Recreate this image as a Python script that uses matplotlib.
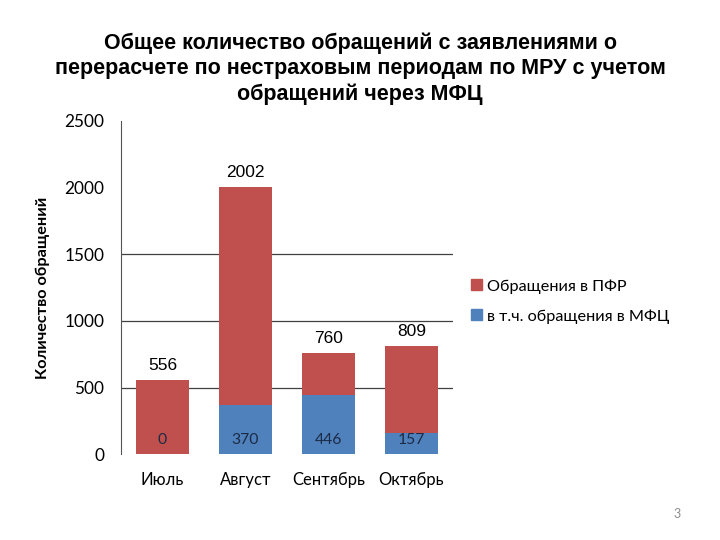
import matplotlib
matplotlib.use("Agg")
import matplotlib.pyplot as plt
from matplotlib.patches import Patch

months = ["Июль", "Август", "Сентябрь", "Октябрь"]
totals = [556, 2002, 760, 809]
mfc = [0, 370, 446, 157]
pfr = [t - m for t, m in zip(totals, mfc)]

red = "#C0504D"
blue = "#4F81BD"
body_font = ["Lato", "DejaVu Sans"]

fig = plt.figure(figsize=(7.2, 5.4), dpi=100)
ax = fig.add_axes([0.168, 0.159, 0.461, 0.617])

x = range(len(months))
ax.bar(x, mfc, width=0.64, color=blue, zorder=2)
ax.bar(x, pfr, width=0.64, bottom=mfc, color=red, zorder=2)

for i in x:
    ax.annotate(str(totals[i]), (i, totals[i]), xytext=(0, 5), textcoords="offset points",
                ha="center", va="bottom", fontsize=12.5, family="Liberation Sans")
    ax.annotate(str(mfc[i]), (i, 0), xytext=(0, 10), textcoords="offset points",
                ha="center", va="center", fontsize=11.3, family=body_font, color="#1c2b45")

ax.set_xlim(-0.5, 3.5)
ax.set_ylim(0, 2500)
ax.set_yticks([0, 500, 1000, 1500, 2000, 2500])
for y in [500, 1000, 1500]:
    ax.axhline(y, color="#404040", lw=0.9, zorder=1)
ax.set_xticks(list(x))
ax.set_xticklabels(months, family=body_font, fontsize=12)
ax.tick_params(axis="x", length=0, pad=13)
ax.tick_params(axis="y", length=0, pad=12, labelsize=12.4)
for lab in ax.get_yticklabels():
    lab.set_family(body_font)
for s in ["top", "right", "bottom"]:
    ax.spines[s].set_visible(False)
ax.spines["left"].set_color("#555555")
ax.set_ylabel("Количество обращений", family=body_font, fontweight="bold", fontsize=11.7, labelpad=10)

fig.suptitle("Общее количество обращений с заявлениями о\nперерасчете по нестраховым периодам по МРУ с учетом\nобращений через МФЦ",
             y=0.939, fontsize=15.5, fontweight="bold", family="Liberation Sans",
             linespacing=1.25, va="top")

handles = [Patch(color=red), Patch(color=blue)]
fig.legend(handles, ["Обращения в ПФР", "в т.ч. обращения в МФЦ"], loc="center left",
           bbox_to_anchor=(0.634, 0.442), frameon=False, prop={"family": body_font, "size": 11.7},
           handlelength=0.65, handleheight=0.65, handletextpad=0.3, labelspacing=0.95)

fig.text(0.936, 0.04, "3", color="#8c8c8c", fontsize=9, family=body_font)

fig.savefig("out.png", dpi=100)
